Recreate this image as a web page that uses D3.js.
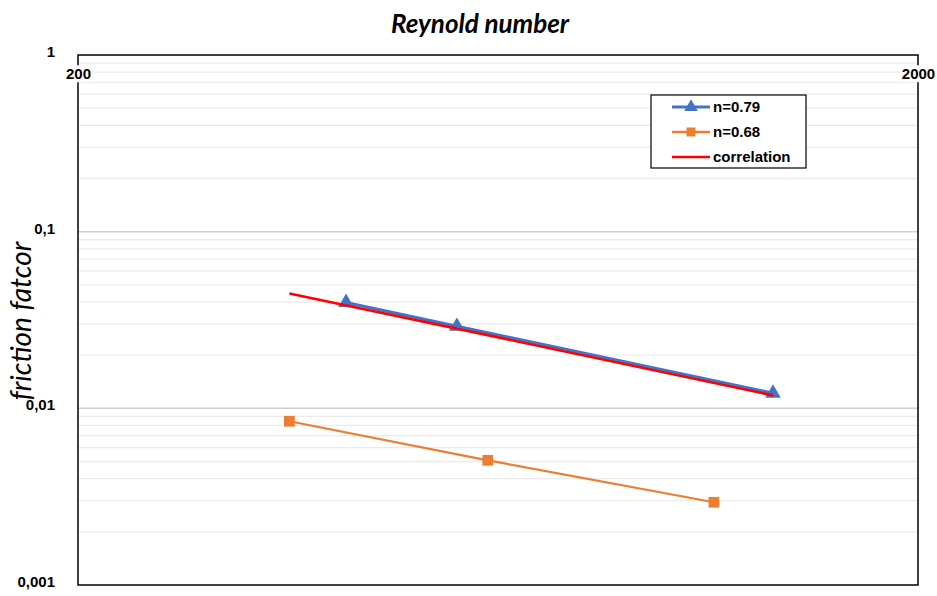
<!DOCTYPE html>
<html>
<head>
<meta charset="utf-8">
<script src="https://cdn.jsdelivr.net/npm/d3@7"></script>
<style>
  body { margin: 0; background: #fff; }
</style>
</head>
<body>
<div id="chart"></div>
<script>
// data
const reN079 = [417, 565, 1344];
const fN079 = [0.0397, 0.0291, 0.01216];
const reN068 = [357, 615, 1143];
const fN068 = [0.00845, 0.00508, 0.00294];
const reCorr = [357, 1344];
const fCorr = [0.0447, 0.01184];
const xTickValues = [200, 2000];
const xTickLabels = ['200', '2000'];
const yTickValues = [1, 0.1, 0.01, 0.001];
const yTickLabels = ['1', '0,1', '0,01', '0,001'];
const seriesNames = ['n=0.79', 'n=0.68', 'correlation'];

const width = 937;
const height = 596;
const plot = { left: 78, right: 918, top: 55, bottom: 585 };
const labelFont = 'Liberation Sans Narrow, Liberation Sans, Arial';

const svg = d3
  .select('#chart')
  .append('svg')
  .attr('width', width)
  .attr('height', height);

const x = d3.scaleLog().domain([200, 2000]).range([plot.left, plot.right]);
const y = d3.scaleLog().domain([0.001, 1]).range([plot.bottom, plot.top]);

// gridlines, minor first then major
const minor = [];
const major = [];
[0.001, 0.01, 0.1].forEach((d) => {
  for (let k = 2; k <= 9; k++) minor.push(d * k);
  if (d > 0.001) major.push(d);
});

svg
  .append('g')
  .selectAll('line')
  .data(minor)
  .enter()
  .append('line')
  .attr('x1', plot.left)
  .attr('x2', plot.right)
  .attr('y1', (d) => y(d))
  .attr('y2', (d) => y(d))
  .attr('stroke', '#ebebeb')
  .attr('stroke-width', 1.3);

svg
  .append('g')
  .selectAll('line')
  .data(major)
  .enter()
  .append('line')
  .attr('x1', plot.left)
  .attr('x2', plot.right)
  .attr('y1', (d) => y(d))
  .attr('y2', (d) => y(d))
  .attr('stroke', '#d0d0d0')
  .attr('stroke-width', 1.5);

// plot border
svg
  .append('rect')
  .attr('x', plot.left)
  .attr('y', plot.top)
  .attr('width', plot.right - plot.left)
  .attr('height', plot.bottom - plot.top)
  .attr('fill', 'none')
  .attr('stroke', '#000')
  .attr('stroke-width', 1.5);

// y axis labels
svg
  .append('g')
  .attr('transform', `translate(${plot.left - 20},0)`)
  .call(
    d3
      .axisLeft(y)
      .tickValues(yTickValues)
      .tickSize(0)
      .tickFormat((d, i) => yTickLabels[i])
  )
  .call((g) => g.select('.domain').remove())
  .call((g) =>
    g
      .selectAll('text')
      .attr('font-family', labelFont)
      .attr('font-weight', 'bold')
      .attr('font-size', 15)
      .attr('fill', '#000')
      .attr('dy', '0.1em')
  );

// x axis labels (sit inside the top of the plot, over the border)
const xAxis = svg
  .append('g')
  .attr('transform', `translate(0,${plot.top + 19})`)
  .call(
    d3
      .axisBottom(x)
      .tickValues(xTickValues)
      .tickSize(0)
      .tickFormat((d, i) => xTickLabels[i])
  )
  .call((g) => g.select('.domain').remove());

xAxis
  .selectAll('.tick text')
  .attr('font-family', labelFont)
  .attr('font-weight', 'bold')
  .attr('font-size', 15)
  .attr('fill', '#000')
  .attr('y', 0)
  .attr('dy', '0.35em');

xAxis.selectAll('.tick').each(function () {
  const t = d3.select(this);
  const bb = t.select('text').node().getBBox();
  t.insert('rect', 'text')
    .attr('x', bb.x - 1)
    .attr('y', bb.y)
    .attr('width', bb.width + 2)
    .attr('height', bb.height)
    .attr('fill', '#fff');
});

// titles
svg
  .append('text')
  .attr('x', 480)
  .attr('y', 33)
  .attr('text-anchor', 'middle')
  .attr('font-family', 'Lato, Open Sans, sans-serif')
  .attr('font-style', 'italic')
  .attr('font-weight', 'bold')
  .attr('font-size', 26)
  .text('Reynold number');

svg
  .append('text')
  .attr('transform', 'translate(31,321) rotate(-90)')
  .attr('text-anchor', 'middle')
  .attr('font-family', 'Lato, Open Sans, sans-serif')
  .attr('font-style', 'italic')
  .attr('font-size', 28)
  .text('friction fatcor');

// series
const toPts = (xs, ys) => xs.map((d, i) => ({ re: d, f: ys[i] }));
const line = d3
  .line()
  .x((d) => x(d.re))
  .y((d) => y(d.f));

const blue = '#4472c4';
const orange = '#ed7d31';
const red = '#ff0000';

const ptsBlue = toPts(reN079, fN079);
const ptsOrange = toPts(reN068, fN068);
const ptsRed = toPts(reCorr, fCorr);

svg
  .append('path')
  .datum(ptsOrange)
  .attr('fill', 'none')
  .attr('stroke', orange)
  .attr('stroke-width', 2.2)
  .attr('d', line);

svg
  .append('g')
  .selectAll('path')
  .data(ptsOrange)
  .enter()
  .append('path')
  .attr('transform', (d) => `translate(${x(d.re)},${y(d.f)})`)
  .attr('d', d3.symbol().type(d3.symbolSquare).size(115))
  .attr('fill', orange);

svg
  .append('path')
  .datum(ptsBlue)
  .attr('fill', 'none')
  .attr('stroke', blue)
  .attr('stroke-width', 3.2)
  .attr('d', line);

svg
  .append('g')
  .selectAll('path')
  .data(ptsBlue)
  .enter()
  .append('path')
  .attr('transform', (d) => `translate(${x(d.re)},${y(d.f)})`)
  .attr('d', d3.symbol().type(d3.symbolTriangle).size(105))
  .attr('fill', blue);

svg
  .append('path')
  .datum(ptsRed)
  .attr('fill', 'none')
  .attr('stroke', red)
  .attr('stroke-width', 2.6)
  .attr('d', line);

// legend
const legend = svg.append('g').attr('transform', 'translate(651,95)');
legend
  .append('rect')
  .attr('width', 155)
  .attr('height', 73)
  .attr('fill', '#fff')
  .attr('stroke', '#000')
  .attr('stroke-width', 1.2);

const legendColors = [blue, orange, red];
const legendSymbols = [d3.symbolTriangle, d3.symbolSquare, null];
const rows = legend
  .selectAll('.row')
  .data(seriesNames)
  .enter()
  .append('g')
  .attr('transform', (d, i) => `translate(0,${12 + i * 25})`);

rows
  .append('line')
  .attr('x1', 21)
  .attr('x2', 59)
  .attr('stroke', (d, i) => legendColors[i])
  .attr('stroke-width', (d, i) => (i === 0 ? 3 : 2.4));

rows
  .filter((d, i) => legendSymbols[i])
  .append('path')
  .attr('transform', 'translate(40,0)')
  .attr('d', (d, i) => d3.symbol().type(legendSymbols[i]).size(80)())
  .attr('fill', (d, i) => legendColors[i]);

rows
  .append('text')
  .attr('x', 62)
  .attr('dy', '0.35em')
  .attr('font-family', labelFont)
  .attr('font-weight', 'bold')
  .attr('font-size', 15)
  .text((d) => d);
</script>
</body>
</html>
